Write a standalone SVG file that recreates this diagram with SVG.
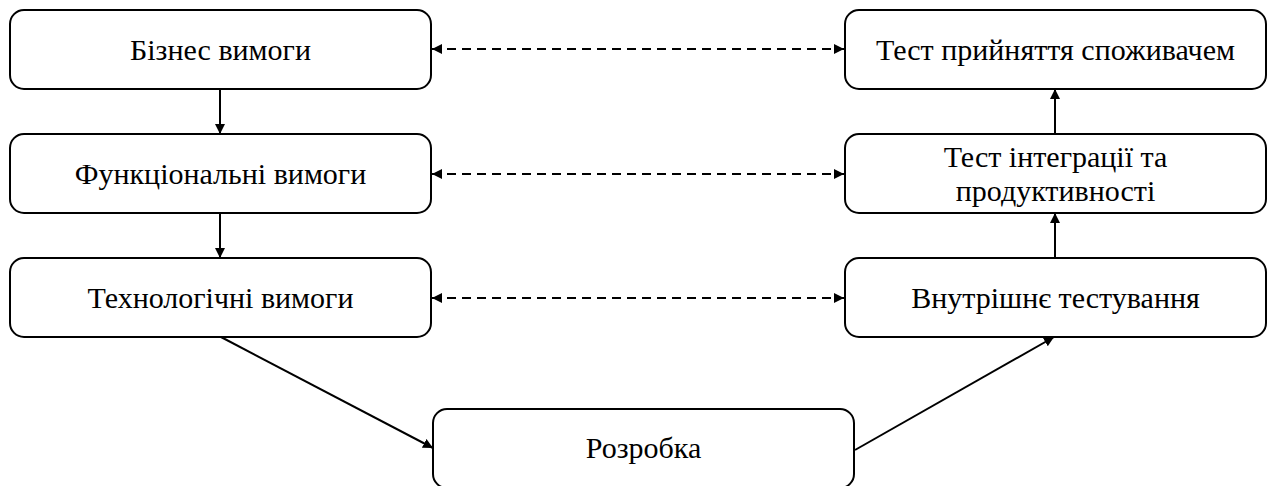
<svg xmlns="http://www.w3.org/2000/svg" width="1269" height="486" viewBox="0 0 1269 486">
  <style>
    .box { fill: #ffffff; stroke: #000000; stroke-width: 2; }
    .label { font-family: "Liberation Serif", "Times New Roman", serif; font-size: 30px; fill: #000000; text-anchor: middle; }
    .flow { fill: none; stroke: #000000; stroke-width: 2; }
    .trace { fill: none; stroke: #000000; stroke-width: 2; stroke-dasharray: 9 6; }
  </style>
  <defs>
    <marker id="arrow" viewBox="0 0 10 10" refX="10" refY="5" markerWidth="5" markerHeight="5" orient="auto-start-reverse" markerUnits="strokeWidth">
      <path d="M0,0 L10,5 L0,10 z" fill="#000000"/>
    </marker>
  </defs>

  <rect width="1269" height="486" fill="#ffffff"/>

  <!-- Left branch: requirements -->
  <g id="business-req">
    <rect class="box" x="10" y="10" width="421" height="79" rx="14"/>
    <text class="label" x="220.5" y="60">Бізнес вимоги</text>
  </g>
  <g id="functional-req">
    <rect class="box" x="10" y="134" width="421" height="79" rx="14"/>
    <text class="label" x="220.5" y="184">Функціональні вимоги</text>
  </g>
  <g id="technology-req">
    <rect class="box" x="10" y="258" width="421" height="79" rx="14"/>
    <text class="label" x="220.5" y="308">Технологічні вимоги</text>
  </g>

  <!-- Bottom: development -->
  <g id="development">
    <rect class="box" x="433" y="409" width="421" height="79" rx="14"/>
    <text class="label" x="643.5" y="458">Розробка</text>
  </g>

  <!-- Right branch: testing -->
  <g id="acceptance-test">
    <rect class="box" x="845" y="10" width="421" height="79" rx="14"/>
    <text class="label" x="1055.5" y="60">Тест прийняття споживачем</text>
  </g>
  <g id="integration-test">
    <rect class="box" x="845" y="134" width="421" height="79" rx="14"/>
    <text class="label" x="1055.5" y="167">Тест інтеграції та</text>
    <text class="label" x="1055.5" y="201">продуктивності</text>
  </g>
  <g id="internal-test">
    <rect class="box" x="845" y="258" width="421" height="79" rx="14"/>
    <text class="label" x="1055.5" y="308">Внутрішнє тестування</text>
  </g>

  <!-- Connectors -->
  <g id="connectors">
    <line class="flow" x1="220" y1="89" x2="220" y2="134" marker-end="url(#arrow)"/>
    <line class="flow" x1="220" y1="213" x2="220" y2="258" marker-end="url(#arrow)"/>
    <line class="flow" x1="221" y1="337" x2="433" y2="448" marker-end="url(#arrow)"/>
    <line class="flow" x1="855" y1="450" x2="1054" y2="337" marker-end="url(#arrow)"/>
    <line class="flow" x1="1055" y1="258" x2="1055" y2="213" marker-end="url(#arrow)"/>
    <line class="flow" x1="1055" y1="134" x2="1055" y2="89" marker-end="url(#arrow)"/>

    <line class="trace" x1="432" y1="49" x2="844" y2="49" marker-start="url(#arrow)" marker-end="url(#arrow)"/>
    <line class="trace" x1="432" y1="174" x2="844" y2="174" marker-start="url(#arrow)" marker-end="url(#arrow)"/>
    <line class="trace" x1="432" y1="298" x2="844" y2="298" marker-start="url(#arrow)" marker-end="url(#arrow)"/>
  </g>
</svg>
